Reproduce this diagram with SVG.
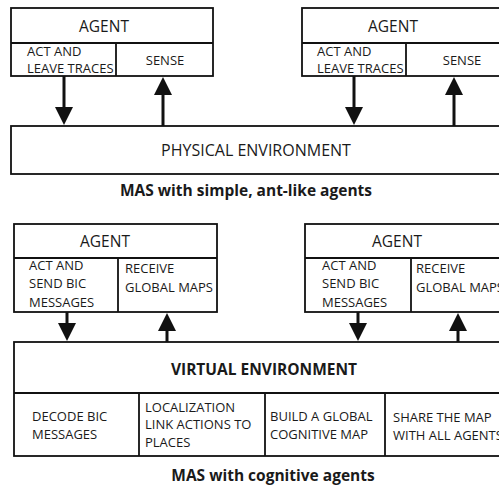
<svg xmlns="http://www.w3.org/2000/svg" width="499" height="486" viewBox="0 0 499 486">
<style>
.box{fill:#fff;stroke:#111;stroke-width:1.8}
.ln{stroke:#111;stroke-width:1.8;fill:none}
.t{font-family:"Open Sans",sans-serif;fill:#1a1a1a}
.h{font-size:15.5px}
.s{font-size:13px}
.p{font-size:16px}
.b{font-size:15.5px;font-weight:bold}
.c{stroke:#111;stroke-width:3;fill:none}
</style>
<defs>
<marker id="ah" markerUnits="userSpaceOnUse" markerWidth="18" markerHeight="18" refX="6" refY="9" orient="auto">
<path d="M0,0 L18,9 L0,18 z" fill="#111"/>
</marker>
</defs>
<rect width="499" height="486" fill="#fff"/>

<g id="agent1">
<rect class="box" x="11" y="8" width="202" height="68"/>
<line class="ln" x1="11" y1="43" x2="213" y2="43"/>
<line class="ln" x1="116" y1="43" x2="116" y2="76"/>
<text class="t h" x="104" y="32" text-anchor="middle">AGENT</text>
<text class="t s" x="27" y="56">ACT AND</text>
<text class="t s" x="27" y="73">LEAVE TRACES</text>
<text class="t s" x="165" y="65" text-anchor="middle">SENSE</text>
</g>

<g id="agent2">
<rect class="box" x="302" y="8" width="202" height="68"/>
<line class="ln" x1="302" y1="43" x2="504" y2="43"/>
<line class="ln" x1="406" y1="43" x2="406" y2="76"/>
<text class="t h" x="393" y="32" text-anchor="middle">AGENT</text>
<text class="t s" x="317" y="56">ACT AND</text>
<text class="t s" x="317" y="73">LEAVE TRACES</text>
<text class="t s" x="462" y="65" text-anchor="middle">SENSE</text>
</g>

<g id="physical-env">
<rect class="box" x="11" y="126" width="494" height="48"/>
<text class="t p" x="256" y="156" text-anchor="middle">PHYSICAL ENVIRONMENT</text>
</g>

<text class="t b" x="246" y="196" text-anchor="middle">MAS with simple, ant-like agents</text>

<g id="agent3">
<rect class="box" x="14" y="224" width="203" height="88"/>
<line class="ln" x1="14" y1="258" x2="217" y2="258"/>
<line class="ln" x1="118" y1="258" x2="118" y2="312"/>
<text class="t h" x="105" y="247" text-anchor="middle">AGENT</text>
<text class="t s" x="29" y="270">ACT AND</text>
<text class="t s" x="29" y="288">SEND BIC</text>
<text class="t s" x="29" y="307">MESSAGES</text>
<text class="t s" x="125" y="273">RECEIVE</text>
<text class="t s" x="125" y="292">GLOBAL MAPS</text>
</g>

<g id="agent4">
<rect class="box" x="305" y="224" width="203" height="88"/>
<line class="ln" x1="305" y1="258" x2="508" y2="258"/>
<line class="ln" x1="411" y1="258" x2="411" y2="312"/>
<text class="t h" x="397" y="247" text-anchor="middle">AGENT</text>
<text class="t s" x="322" y="270">ACT AND</text>
<text class="t s" x="322" y="288">SEND BIC</text>
<text class="t s" x="322" y="307">MESSAGES</text>
<text class="t s" x="416" y="273">RECEIVE</text>
<text class="t s" x="416" y="292">GLOBAL MAPS</text>
</g>

<g id="virtual-env">
<rect class="box" x="14" y="342" width="494" height="114"/>
<line class="ln" x1="14" y1="393" x2="508" y2="393"/>
<line class="ln" x1="139" y1="393" x2="139" y2="456"/>
<line class="ln" x1="265" y1="393" x2="265" y2="456"/>
<line class="ln" x1="385" y1="393" x2="385" y2="456"/>
<text class="t b" x="264" y="375" text-anchor="middle">VIRTUAL ENVIRONMENT</text>
<text class="t s" x="32" y="421">DECODE BIC</text>
<text class="t s" x="32" y="439">MESSAGES</text>
<text class="t s" x="145" y="412">LOCALIZATION</text>
<text class="t s" x="145" y="429">LINK ACTIONS TO</text>
<text class="t s" x="145" y="447">PLACES</text>
<text class="t s" x="270" y="421">BUILD A GLOBAL</text>
<text class="t s" x="270" y="439">COGNITIVE MAP</text>
<text class="t s" x="393" y="422">SHARE THE MAP</text>
<text class="t s" x="393" y="440">WITH ALL AGENTS</text>
</g>

<text class="t b" x="273" y="481" text-anchor="middle">MAS with cognitive agents</text>

<g id="connectors">
<path class="c" d="M64,76 L64,113" marker-end="url(#ah)"/>
<path class="c" d="M163,126 L163,89" marker-end="url(#ah)"/>
<path class="c" d="M354,76 L354,113" marker-end="url(#ah)"/>
<path class="c" d="M454,126 L454,89" marker-end="url(#ah)"/>
<path class="c" d="M67,312 L67,329" marker-end="url(#ah)"/>
<path class="c" d="M167,342 L167,325" marker-end="url(#ah)"/>
<path class="c" d="M358,312 L358,329" marker-end="url(#ah)"/>
<path class="c" d="M458,342 L458,325" marker-end="url(#ah)"/>
</g>
</svg>
